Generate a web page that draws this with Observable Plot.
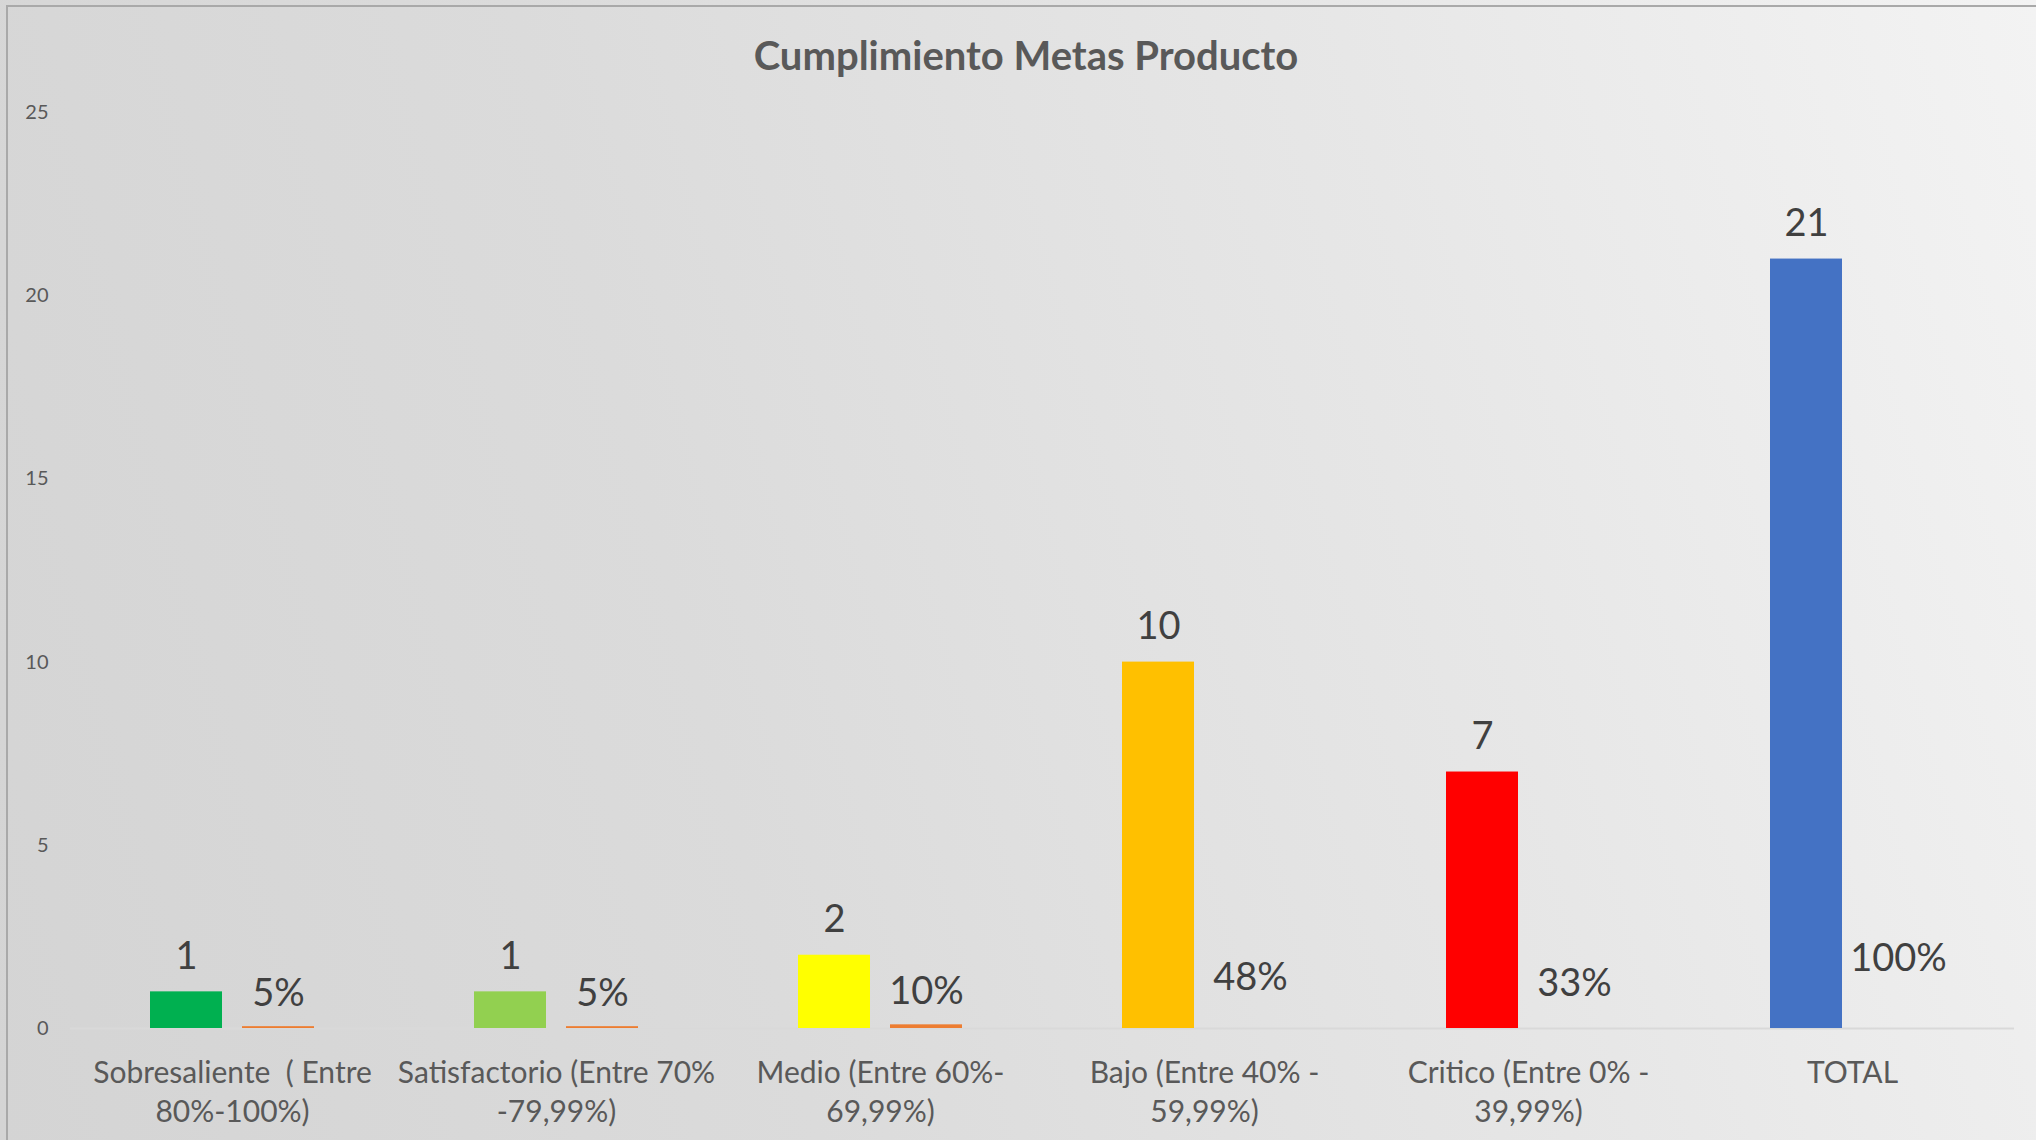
<!DOCTYPE html>
<html>
<head>
<meta charset="utf-8">
<script src="https://cdn.jsdelivr.net/npm/d3@7"></script>
<script src="https://cdn.jsdelivr.net/npm/@observablehq/plot@0.6"></script>
<style>
  html, body { margin: 0; padding: 0; }
  body { width: 2036px; height: 1140px; overflow: hidden; background: #e0e0e0; }
  #wrap {
    position: relative; width: 2036px; height: 1140px; overflow: hidden;
    background: linear-gradient(75deg, #d4d4d4 0%, #dbdbdb 35%, #e7e7e7 70%, #f3f3f3 100%);
    font-family: Lato, "Open Sans", sans-serif;
  }
  #frame {
    position: absolute; left: 6px; top: 5px; right: -10px; bottom: -10px;
    border-left: 2px solid #a9a9a9; border-top: 2px solid #a9a9a9; pointer-events: none;
  }
  #title {
    position: absolute; left: 16px; right: 0; top: 35px;
    text-align: center; font-size: 40px; line-height: 40px; font-weight: bold; color: #595959;
  }
  #chart { position: absolute; left: 0; top: 90px; }
</style>
</head>
<body>
<div id="wrap">
  <div id="frame"></div>
  <div id="title">Cumplimiento Metas Producto</div>
  <div id="chart"></div>
</div>
<script>
const categories = [
  "Sobresaliente  ( Entre\n80%-100%)",
  "Satisfactorio (Entre 70%\n-79,99%)",
  "Medio (Entre 60%-\n69,99%)",
  "Bajo (Entre 40% -\n59,99%)",
  "Critico (Entre 0% -\n39,99%)",
  "TOTAL"
];
const counts = [1, 1, 2, 10, 7, 21];
const percents = [0.05, 0.05, 0.10, 0.48, 0.33, 1.00];
const barColors = ["#00B050", "#92D050", "#FFFF00", "#FFC000", "#FF0000", "#4472C4"];
const pctBarColor = "#ED7D31";
const pctBarVisible = [true, true, true, false, false, false];
const seriesNames = ["Cantidad", "Porcentaje"];
const yTicks = [0, 5, 10, 15, 20, 25];

const countRows = categories.map((c, i) => ({cat: c, series: seriesNames[0], value: counts[i], color: barColors[i], label: String(counts[i])}));
const pctRows = categories.map((c, i) => ({cat: c, series: seriesNames[1], value: percents[i], color: pctBarColor, label: d3.format(".0%")(percents[i]), show: pctBarVisible[i]}));

const chart = Plot.plot({
  width: 2036,
  height: 1050,
  marginLeft: 70,
  marginRight: 22,
  marginTop: 22,
  marginBottom: 112,
  style: {background: "transparent", fontFamily: "Lato, 'Open Sans', sans-serif", overflow: "visible"},
  fx: {domain: categories, padding: 0, label: null},
  x: {domain: seriesNames, paddingInner: 0.22, paddingOuter: 0.87, axis: null},
  y: {domain: [0, 25], label: null},
  color: {type: "identity"},
  marks: [
    Plot.axisY({ticks: yTicks, tickSize: 0, tickPadding: 22, fontSize: 20, fill: "#595959", label: null}),
    Plot.axisFx({anchor: "bottom", tickSize: 0, tickPadding: 27, fontSize: 30, lineHeight: 1.3, lineAnchor: "top", fill: "#595959", label: null}),
    Plot.ruleY([0], {stroke: "#d9d9d9", strokeWidth: 2}),
    Plot.barY(countRows, {fx: "cat", x: "series", y: "value", fill: "color"}),
    Plot.barY(pctRows.filter(d => d.show), {fx: "cat", x: "series", y: "value", fill: "color"}),
    Plot.text(countRows, {fx: "cat", x: "series", y: "value", text: "label", dy: -35, lineAnchor: "middle", fontSize: 38, fill: "#404040"}),
    Plot.text(pctRows, {fx: "cat", x: "series", y: "value", text: "label", dy: -33, lineAnchor: "middle", fontSize: 38, fill: "#404040"})
  ]
});
document.getElementById("chart").appendChild(chart);
</script>
</body>
</html>
